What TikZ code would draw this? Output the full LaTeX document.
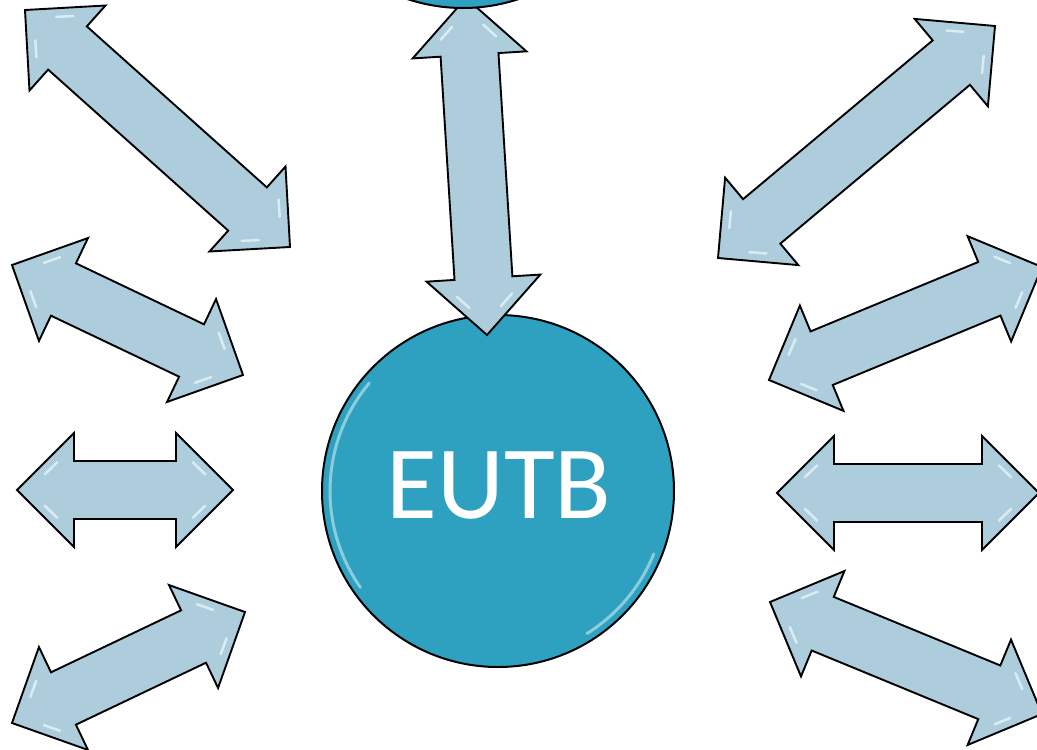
\documentclass[tikz,border=0pt]{standalone}
\usepackage{fontspec}
\setmainfont{Carlito}
\usetikzlibrary{calc}
\definecolor{arrowfill}{HTML}{ADCDDC}
\definecolor{hubfill}{HTML}{2DA1BF}
\definecolor{glint}{HTML}{EAF7FC}
\newcommand\arrHL{57pt}
\newcommand\arrHW{57pt}
\newcommand\arrSW{29pt}
\tikzset{
  blockarrow/.style={draw=black, fill=arrowfill, line width=1.9pt, line join=miter},
  hubnode/.style={circle, draw=black, fill=hubfill, line width=2pt, minimum size=352pt, inner sep=0pt},
  hubtext/.style={text=white, font=\fontsize{104}{110}\selectfont, inner sep=0pt},
  shine/.style={glint, opacity=0.5, line width=3pt, line cap=round},
  arrglint/.style={glint, opacity=0.75, line width=2.5pt, line cap=round}
}
% glint along the head edge from tip #1 to corner #2, pushed toward head centre #3
\newcommand\headglint[3]{%
  \draw[arrglint] ($($(#1)!0.35!(#2)$)!9pt!(#3)$) -- ($($(#1)!0.62!(#2)$)!9pt!(#3)$);}
\newcommand\dblarr[1]{%
  \coordinate (#1-ha) at ($(#1-a)!\arrHL!(#1-b)$);
  \coordinate (#1-hb) at ($(#1-b)!\arrHL!(#1-a)$);
  \coordinate (#1-a1) at ($(#1-ha)!\arrHW!90:(#1-b)$);
  \coordinate (#1-a2) at ($(#1-ha)!\arrHW!-90:(#1-b)$);
  \coordinate (#1-b1) at ($(#1-hb)!\arrHW!-90:(#1-a)$);
  \coordinate (#1-b2) at ($(#1-hb)!\arrHW!90:(#1-a)$);
  \draw[blockarrow] (#1-a)
    -- (#1-a1) -- ($(#1-ha)!\arrSW!90:(#1-b)$)
    -- ($(#1-hb)!\arrSW!-90:(#1-a)$) -- (#1-b1)
    -- (#1-b)
    -- (#1-b2) -- ($(#1-hb)!\arrSW!90:(#1-a)$)
    -- ($(#1-ha)!\arrSW!-90:(#1-b)$) -- (#1-a2)
    -- cycle;
  \headglint{#1-a}{#1-a1}{#1-ha}\headglint{#1-a}{#1-a2}{#1-ha}%
  \headglint{#1-b}{#1-b1}{#1-hb}\headglint{#1-b}{#1-b2}{#1-hb}}
\begin{document}
\begin{tikzpicture}[x=1pt,y=-1pt]
\useasboundingbox (0,0) rectangle (1037,750);
\clip (0,0) rectangle (1037,750);
\fill[white] (0,0) rectangle (1037,750);
% arrow end points
\coordinate (l1-a) at (25,10);   \coordinate (l1-b) at (290,247);
\coordinate (l2-a) at (12,265);  \coordinate (l2-b) at (243,375);
\coordinate (l3-a) at (17,490);  \coordinate (l3-b) at (233,490);
\coordinate (l4-a) at (12,723);  \coordinate (l4-b) at (245,612);
\coordinate (r1-a) at (718,258); \coordinate (r1-b) at (995,26);
\coordinate (r2-a) at (769,380); \coordinate (r2-b) at (1042,267);
\coordinate (r3-a) at (777,493); \coordinate (r3-b) at (1039,493);
\coordinate (r4-a) at (770,602); \coordinate (r4-b) at (1042,714);
\coordinate (v-a) at (466,-2);   \coordinate (v-b) at (487,335);
\dblarr{l1}\dblarr{l2}\dblarr{l3}\dblarr{l4}
\dblarr{r1}\dblarr{r2}\dblarr{r3}\dblarr{r4}
% central hub
\node[hubnode] (hub) at (498,491) {};
\draw[shine] ($(hub.center)+(140:168pt)$) arc[start angle=140, end angle=215, radius=168pt];
\draw[shine] ($(hub.center)+(-22:168pt)$) arc[start angle=-22, end angle=-58, radius=168pt];
\node[hubtext] (hublabel) at (499,486) {EUTB};
% vertical arrow and top circle
\dblarr{v}
\node[hubnode] (top) at (463,-168) {};
\end{tikzpicture}
\end{document}
